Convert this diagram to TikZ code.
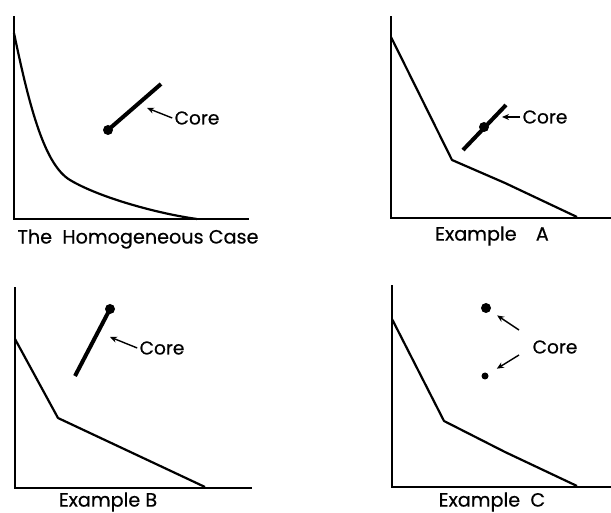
\documentclass[tikz,border=0pt]{standalone}
\usepackage{fontspec}
\setmainfont{Poppins}[FakeBold=0.5]
\usetikzlibrary{arrows.meta}

\tikzset{
  axis/.style={line width=0.9pt, line cap=rect},
  frontier/.style={line width=1.1pt, line join=round},
  coreline/.style={line width=2pt},
  coredot/.style={circle, fill, inner sep=0pt, minimum size=5pt},
  smalldot/.style={circle, fill, inner sep=0pt, minimum size=3.5pt},
  pointer/.style={line width=0.7pt, -{Stealth[length=3.5pt,width=3pt]}},
  corelabel/.style={font=\fontsize{9.3}{11}\selectfont, inner sep=1pt},
  caption/.style={font=\fontsize{9.6}{11}\selectfont}
}

\begin{document}
\begin{tikzpicture}[x=0.5pt, y=-0.5pt]
  \useasboundingbox (0,0) rectangle (611,513);

  % The homogeneous case
  \draw[axis] (14,17) -- (14,219) -- (248,219);
  \draw[frontier] (14,33) .. controls (30,110) and (45,165) .. (70,180)
    .. controls (100,198) and (160,214) .. (197,219);
  \node[coredot] (hdot) at (108,130) {};
  \coordinate (htip) at (161,84);
  \draw[coreline] (hdot.center) -- (htip);
  \node[corelabel] (hcore) at (197,118) {Core};
  \coordinate (hhead) at (147,108);
  \draw[pointer] (hcore.west) -- (hhead);
  \node[caption] (hcap) at (138,239) {The\ \ Homogeneous Case};

  % Example A
  \draw[axis] (391,17) -- (391,218) -- (611,218);
  \draw[frontier] (391,37) -- (452,160) -- (505,183) -- (577,217);
  \coordinate (atail) at (463,150);
  \coordinate (atip) at (506,105);
  \draw[coreline] (atail) -- (atip);
  \node[coredot] (adot) at (484,127) {};
  \node[corelabel] (acore) at (545,117) {Core};
  \coordinate (ahead) at (502,117);
  \draw[pointer] (acore.west) -- (ahead);
  \node[caption] (acap) at (492,236) {Example\quad A};

  % Example B
  \draw[axis] (15,288) -- (15,488) -- (251,488);
  \draw[frontier] (15,339) -- (58,418) -- (205,487);
  \node[coredot] (bdot) at (110,309) {};
  \coordinate (btip) at (75,376);
  \draw[coreline] (bdot.center) -- (btip);
  \node[corelabel] (bcore) at (162,348) {Core};
  \coordinate (bhead) at (110,337);
  \draw[pointer] (bcore.west) -- (bhead);
  \node[caption] (bcap) at (108,502) {Example B};

  % Example C
  \draw[axis] (392,286) -- (392,487) -- (611,487);
  \draw[frontier] (392,319) -- (444,421) -- (505,452) -- (577,486);
  \node[coredot] (cbig) at (486,308) {};
  \node[smalldot] (csmall) at (485,376) {};
  \node[corelabel] (ccore) at (555,347) {Core};
  \coordinate (cup) at (519,330);
  \coordinate (cdown) at (519,355);
  \draw[pointer, shorten >=4pt] (cup) -- (cbig);
  \draw[pointer, shorten >=5pt] (cdown) -- (csmall);
  \node[caption] (ccap) at (492,502) {Example\ \ C};
\end{tikzpicture}
\end{document}
